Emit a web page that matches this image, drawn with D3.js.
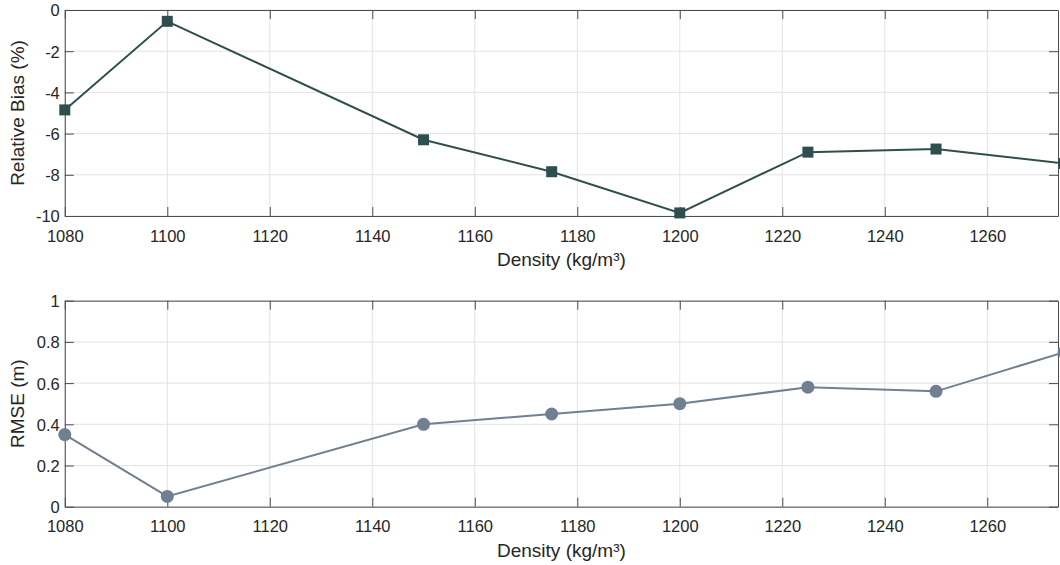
<!DOCTYPE html>
<html>
<head>
<meta charset="utf-8">
<script src="https://cdn.jsdelivr.net/npm/d3@7"></script>
<style>
  body { margin: 0; background: #fff; }
  svg { font-family: "Liberation Sans", Arial, sans-serif; }
</style>
</head>
<body>
<div id="chart"></div>
<script>
// data
var density = [1080, 1100, 1150, 1175, 1200, 1225, 1250, 1275];
var bias = [-4.85, -0.55, -6.3, -7.85, -9.85, -6.9, -6.75, -7.45];
var rmse = [0.35, 0.05, 0.40, 0.45, 0.50, 0.58, 0.56, 0.75];
var xTicks = [1080, 1100, 1120, 1140, 1160, 1180, 1200, 1220, 1240, 1260];
var biasTicks = [0, -2, -4, -6, -8, -10];
var rmseTicks = [0, 0.2, 0.4, 0.6, 0.8, 1];

var width = 1060, height = 565;
var svg = d3.select("#chart").append("svg")
    .attr("width", width)
    .attr("height", height);

// shared x scale
var xScale = d3.scaleLinear()
    .domain([1080, 1273.8])
    .range([64.8, 1058]);

// plain hyphen for negatives, like the original
var fmt = d => String(+d.toFixed(1));

function panel(top, bottom, yDomain, yTicks, values, ylabel, color, marker, clipId) {
  var yScale = d3.scaleLinear().domain(yDomain).range([bottom, top]);
  var g = svg.append("g");
  var x0 = xScale.range()[0], x1 = xScale.range()[1];

  svg.append("clipPath").attr("id", clipId)
    .append("rect").attr("x", x0 - 10).attr("y", top - 10)
    .attr("width", width - x0 + 10).attr("height", bottom - top + 20);

  // grid
  g.selectAll(".gx").data(xTicks).enter().append("line")
    .attr("x1", d => xScale(d)).attr("x2", d => xScale(d))
    .attr("y1", top).attr("y2", bottom)
    .attr("stroke", "#e3e3e3").attr("stroke-width", 1);
  g.selectAll(".gy").data(yTicks).enter().append("line")
    .attr("x1", x0).attr("x2", x1)
    .attr("y1", d => yScale(d)).attr("y2", d => yScale(d))
    .attr("stroke", "#e3e3e3").attr("stroke-width", 1);

  // axes (inward ticks, box on)
  var xAxis = g.append("g")
    .attr("transform", `translate(0,${bottom})`)
    .call(d3.axisBottom(xScale).tickValues(xTicks).tickSizeInner(-9).tickSizeOuter(0).tickPadding(14).tickFormat(d3.format("d")));
  var xTop = g.append("g")
    .attr("transform", `translate(0,${top})`)
    .call(d3.axisTop(xScale).tickValues(xTicks).tickSizeInner(-9).tickSizeOuter(0).tickFormat(""));
  var yAxis = g.append("g")
    .attr("transform", `translate(${x0},0)`)
    .call(d3.axisLeft(yScale).tickValues(yTicks).tickSizeInner(-9).tickSizeOuter(0).tickPadding(5).tickFormat(fmt));
  var yRight = g.append("g")
    .attr("transform", `translate(${x1},0)`)
    .call(d3.axisRight(yScale).tickValues(yTicks).tickSizeInner(-9).tickSizeOuter(0).tickFormat(""));

  [xAxis, xTop, yAxis, yRight].forEach(function(a) {
    a.select(".domain").attr("stroke", "#4d4d4d");
    a.selectAll(".tick line").attr("stroke", "#4d4d4d");
    a.selectAll("text").attr("fill", "#262626").attr("font-size", "16.5px")
      .attr("font-family", "Liberation Sans, Arial, sans-serif");
  });
  yAxis.selectAll("text").attr("dy", "0.36em");

  // labels
  g.append("text")
    .attr("x", (x0 + x1) / 2).attr("y", bottom + 50)
    .attr("text-anchor", "middle").attr("font-size", "19px").attr("fill", "#262626")
    .text("Density (kg/m³)");
  g.append("text")
    .attr("transform", `translate(24,${(top + bottom) / 2}) rotate(-90)`)
    .attr("text-anchor", "middle").attr("font-size", "19px").attr("fill", "#262626")
    .text(ylabel);

  // series
  var plot = g.append("g").attr("clip-path", `url(#${clipId})`);
  var line = d3.line().x((d, i) => xScale(density[i])).y(d => yScale(d));
  plot.append("path").datum(values)
    .attr("d", line).attr("fill", "none")
    .attr("stroke", color).attr("stroke-width", 2);

  if (marker === "square") {
    plot.selectAll("rect.m").data(values).enter().append("rect")
      .attr("x", (d, i) => xScale(density[i]) - 5.5)
      .attr("y", d => yScale(d) - 5.5)
      .attr("width", 11).attr("height", 11)
      .attr("fill", color);
  } else {
    plot.selectAll("circle.m").data(values).enter().append("circle")
      .attr("cx", (d, i) => xScale(density[i]))
      .attr("cy", d => yScale(d))
      .attr("r", 6.5)
      .attr("fill", color);
  }
}

panel(10, 216, [-10, 0], biasTicks, bias, "Relative Bias (%)", "#2f4f4f", "square", "clipTop");
panel(300.7, 506.7, [0, 1], rmseTicks, rmse, "RMSE (m)", "#708090", "circle", "clipBottom");
</script>
</body>
</html>
